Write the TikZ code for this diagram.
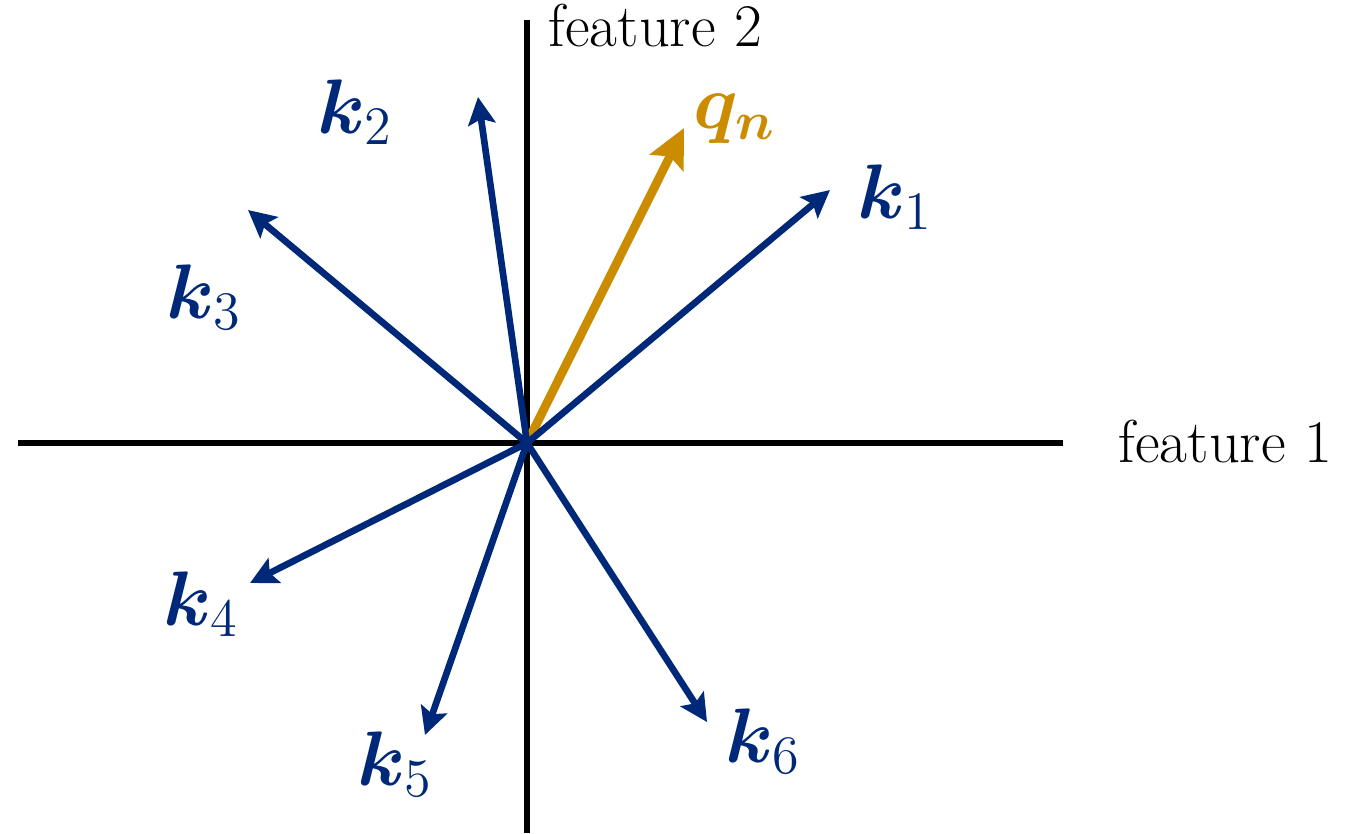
\RequirePackage{fix-cm}
\documentclass[tikz,border=0pt]{standalone}
\usepackage{amsmath,bm}
\usepackage{fontspec}
\usetikzlibrary{arrows.meta}
\definecolor{navy}{RGB}{0,40,120}
\definecolor{gold}{RGB}{204,140,0}
\tikzset{
 axisline/.style={line width=1.5pt,black},
 keyvec/.style={line width=1.9pt,navy,-{Stealth[length=7.8pt,width=7.8pt,inset=1.5pt]}},
 queryvec/.style={line width=2.5pt,gold,-{Stealth[length=11pt,width=10.5pt,inset=2pt]}},
 keylabel/.style={navy,font=\fontsize{22}{26}\selectfont,anchor=base west,inner sep=0pt},
 querylabel/.style={gold,font=\fontsize{22}{26}\selectfont,anchor=base west,inner sep=0pt},
 axislabel/.style={font=\fontsize{17.2}{21}\selectfont,anchor=base west,inner sep=0pt},
}
\begin{document}
\begin{tikzpicture}
\useasboundingbox (0,0) rectangle (13.65,8.33);
\coordinate (O) at (5.27,3.90);
\coordinate (xl) at (0.18,3.90);
\coordinate (xr) at (10.63,3.90);
\coordinate (yt) at (5.27,8.13);
\coordinate (yb) at (5.27,0);
\coordinate (t1) at (8.30,6.43);
\coordinate (t2) at (4.78,7.36);
\coordinate (tq) at (6.84,7.05);
\coordinate (t3) at (2.48,6.23);
\coordinate (t4) at (2.50,2.50);
\coordinate (t5) at (4.25,0.98);
\coordinate (t6) at (7.07,1.11);
\draw[axisline] (xl) -- (xr);
\draw[axisline] (yt) -- (yb);
\draw[queryvec] (O) -- (tq);
\draw[keyvec] (O) -- (t1);
\draw[keyvec] (O) -- (t2);
\draw[keyvec] (O) -- (t3);
\draw[keyvec] (O) -- (t4);
\draw[keyvec] (O) -- (t5);
\draw[keyvec] (O) -- (t6);
\node[keylabel] (l1) at (8.57,6.15) {$\boldsymbol{k}_1$};
\node[keylabel] (l2) at (3.17,7.00) {$\boldsymbol{k}_2$};
\node[querylabel] (lq) at (6.93,7.05) {$\boldsymbol{q}_{\boldsymbol{n}}$};
\node[keylabel] (l3) at (1.66,5.15) {$\boldsymbol{k}_3$};
\node[keylabel] (l4) at (1.63,2.08) {$\boldsymbol{k}_4$};
\node[keylabel] (l5) at (3.57,0.48) {$\boldsymbol{k}_5$};
\node[keylabel] (l6) at (7.25,0.71) {$\boldsymbol{k}_6$};
\node[axislabel] (f2) at (5.48,7.87) {feature 2};
\node[axislabel] (f1) at (11.18,3.71) {feature 1};
\end{tikzpicture}
\end{document}
